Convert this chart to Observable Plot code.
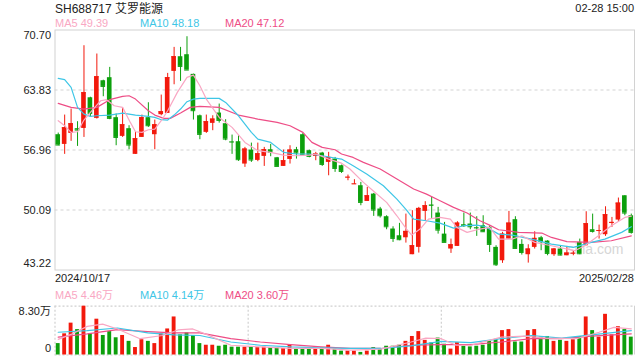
<!DOCTYPE html>
<html><head><meta charset="utf-8">
<script src="https://cdn.jsdelivr.net/npm/d3@7"></script>
<script src="https://cdn.jsdelivr.net/npm/@observablehq/plot@0.6"></script>
<style>
body{margin:0;background:#fff;width:640px;height:360px;overflow:hidden;position:relative;font-family:"Liberation Sans",Arial,"Noto Sans CJK SC",sans-serif;}
.t{position:absolute;white-space:nowrap;line-height:1;}
#main,#vol{position:absolute;left:0;}
#main{top:0}
#vol{top:300px}
</style></head><body>
<div id="main"></div>
<div id="vol"></div>
<script>
// ---- data ----
const title = "SH688717 艾罗能源";
const timeLabel = "02-28 15:00";
const startDate = "2024/10/17";
const endDate = "2025/02/28";
const priceTicks = [70.70, 63.83, 56.96, 50.09, 43.22];
const volMax = 8.30;
const maLabels = ["MA5 49.39", "MA10 48.18", "MA20 47.12"];
const volMaLabels = ["MA5 4.46万", "MA10 4.14万", "MA20 3.60万"];

const open  = [58.71,57.60,58.86,59.40,59.43,62.94,60.58,64.89,65.24,60.66,58.52,59.40,56.46,58.40,60.66,58.71,61.00,61.15,65.96,67.64,67.87,65.62,60.88,58.98,60.01,61.19,59.97,57.91,57.91,55.35,56.95,55.77,56.23,56.99,56.07,55.08,55.88,56.99,58.71,56.88,56.23,56.61,55.54,55.92,55.16,53.80,53.04,52.87,51.07,51.91,50.20,49.32,47.91,47.14,46.91,44.97,45.81,49.93,50.67,49.74,47.33,45.62,45.92,48.40,48.48,48.08,48.29,48.10,45.81,44.28,46.76,48.98,46.15,44.97,45.81,46.91,46.53,44.97,45.62,44.85,45.10,46.38,46.00,47.83,47.70,47.26,48.56,48.94,51.72,49.43];
const high  = [58.90,60.96,61.65,60.20,68.90,63.00,67.95,64.95,66.42,61.08,61.80,59.74,58.98,60.96,62.37,60.39,63.25,65.73,68.71,68.71,69.93,65.65,60.96,60.96,60.88,62.22,60.43,58.67,58.59,57.26,57.75,57.75,57.26,57.60,56.11,56.95,57.45,57.26,58.86,56.95,56.69,56.69,56.69,56.11,55.23,54.09,53.56,53.25,52.68,51.99,50.39,49.43,48.17,48.56,49.62,50.01,50.39,51.04,51.53,50.39,48.67,46.76,48.75,49.74,49.74,49.32,49.43,48.29,46.00,47.53,49.93,49.32,46.69,46.11,47.60,47.07,46.57,45.69,46.00,45.92,45.43,46.76,49.89,49.62,48.36,50.46,49.24,51.46,51.72,49.62];
const low   = [57.45,56.46,57.95,57.37,58.40,60.69,60.50,63.06,60.43,57.45,58.40,56.99,56.46,58.40,59.55,56.99,60.88,61.15,64.43,64.82,66.11,60.39,58.14,58.86,59.17,60.04,58.02,56.46,55.66,54.97,55.54,55.62,55.08,56.19,55.08,55.08,55.35,55.92,56.30,56.07,55.73,55.08,54.01,54.40,54.28,53.44,53.02,50.58,51.07,49.36,49.17,47.83,46.38,46.57,46.30,44.97,45.16,48.86,49.13,47.33,46.38,45.12,45.92,48.10,47.83,47.07,47.53,45.23,43.63,43.98,46.76,45.62,44.93,44.01,45.62,45.43,44.85,44.78,44.85,44.85,44.85,44.97,46.00,47.45,46.76,47.07,48.10,48.78,49.43,47.33];
const close = [57.53,59.51,59.97,59.24,63.52,61.15,65.35,64.24,60.58,58.40,59.85,57.53,58.25,60.66,59.74,59.85,61.34,65.24,67.64,66.53,66.11,61.46,58.75,60.20,60.50,60.35,58.21,57.87,55.85,57.07,55.81,56.53,56.99,56.69,55.08,55.73,56.95,56.61,56.46,56.23,56.50,55.31,56.11,54.85,54.51,53.84,53.08,50.96,51.72,50.08,49.43,48.17,46.84,46.69,47.64,46.00,50.27,50.58,50.63,47.79,46.38,46.11,48.59,48.29,48.17,48.04,47.60,46.15,43.82,47.33,48.59,45.69,45.23,45.62,46.84,46.46,45.12,45.62,44.93,45.16,45.14,45.08,48.52,47.64,47.74,49.55,48.67,50.88,49.74,47.53];
const volume = [1.94,3.60,5.42,4.32,8.30,3.60,6.09,3.32,3.98,2.93,3.32,2.32,1.27,2.60,2.32,1.94,3.60,4.43,6.47,3.43,3.76,3.32,1.94,1.66,1.66,1.49,1.66,1.33,1.33,1.33,1.33,1.27,1.33,1.27,1.22,1.11,1.66,1.11,1.11,1.11,1.11,1.22,1.66,1.00,0.66,0.66,0.66,0.44,0.66,1.27,1.11,1.49,1.49,1.66,2.32,3.15,3.98,2.49,2.05,2.88,1.83,1.00,2.10,1.49,1.38,1.49,1.66,2.32,2.66,4.15,4.32,2.21,2.21,4.15,4.32,3.04,3.15,2.32,2.49,2.32,2.60,3.15,6.47,4.15,3.04,6.92,3.43,4.81,4.32,3.04];

// moving-average curves: [candle index, value]
const ma5 = [[0,60.31],[1,59.74],[2,58.98],[3,59.05],[4,60.39],[5,61.27],[6.6,62.60],[7.5,62.72],[8.7,62.03],[10,61.84],[11.2,60.12],[12,59.05],[13,58.98],[14,59.28],[15,59.36],[16,60.31],[17,61.46],[18.5,63.56],[20,65.27],[21,65.54],[22,64.32],[23,62.79],[25,60.69],[27,59.55],[29,57.83],[31,56.88],[33,56.69],[35,56.38],[37,56.30],[39,56.38],[40,56.50],[41,56.23],[42,55.92],[44,55.45],[45.3,54.78],[47.4,53.25],[48.9,52.30],[51,50.96],[52.6,49.43],[54.1,47.91],[54.9,47.22],[56.2,47.91],[57.5,49.05],[59.3,49.24],[60.9,49.05],[61.9,48.10],[63.5,47.53],[65.5,47.91],[67,48.10],[68.4,46.76],[70.5,46.76],[72,47.14],[74,46.38],[76.6,46.00],[80.2,45.43],[81.8,46.00],[83.9,47.14],[85.9,48.29],[88,49.24],[89,49.39]];
const ma10 = [[0,65.16],[1,65.01],[2,64.13],[3,61.84],[4,61.07],[5,60.81],[6,60.88],[8,60.96],[10,61.19],[12,60.96],[14,60.81],[15,60.69],[16,60.43],[17,60.39],[18,60.96],[19,61.65],[20,62.49],[21,62.79],[22,62.87],[25,62.87],[26,62.41],[28,60.88],[30,58.98],[31,58.21],[33,57.83],[35,56.69],[37,56.50],[39,56.50],[41,56.30],[43,56.04],[44,55.92],[45.8,55.16],[47.9,54.20],[50.5,52.87],[52.6,51.34],[54.1,50.08],[55.2,49.05],[57.2,48.86],[59.3,48.59],[61.4,48.02],[63,48.29],[65,48.36],[66.3,48.20],[68.4,47.33],[70.5,47.22],[73.5,46.76],[76.6,46.19],[80,45.81],[82.8,46.38],[84.9,46.76],[87.5,47.53],[89,48.18]];
const ma20 = [[0,62.30],[2,61.84],[4,61.65],[6,61.84],[8,62.72],[10,63.10],[11,63.17],[12,62.79],[14,61.46],[15,60.96],[16.4,60.58],[17.4,60.58],[19,61.19],[20.5,61.84],[22,61.95],[25,61.84],[28,60.96],[31,60.50],[34,60.12],[36,59.74],[38,58.98],[39.4,57.83],[41,57.26],[43,56.99],[44,56.50],[45.8,56.11],[47.4,55.54],[50,54.78],[52.6,53.63],[55.2,52.49],[57.2,51.91],[59.3,51.15],[61.4,50.39],[63.5,49.74],[65.5,48.86],[67,48.36],[68.4,47.83],[71.5,47.53],[75.1,47.45],[76.6,46.95],[79,46.46],[82.8,46.38],[85.9,46.57],[89,47.12]];
const volMa5 = [[0,2.66],[2.2,3.60],[4.5,4.87],[6.9,5.26],[9.2,4.43],[12.7,2.77],[16.2,3.32],[18.6,4.26],[20.9,4.43],[23.2,3.43],[26.8,1.66],[31.4,1.38],[36.1,1.11],[40.8,1.11],[45.4,0.83],[50.1,1.00],[54.8,2.21],[57.1,2.88],[59.5,2.77],[61.8,1.66],[64.1,1.66],[68.8,3.04],[72.3,3.21],[75.8,2.88],[80.5,2.77],[84,3.87],[86.3,4.70],[89,4.46]];
const volMa10 = [[0,3.87],[4.5,4.15],[9.2,4.59],[13.9,3.76],[18,3.43],[22,3.32],[26.8,2.21],[31.4,1.66],[36.1,1.38],[40.8,1.22],[45.4,1.11],[50.1,1.11],[54.8,1.55],[59.5,2.32],[64.1,2.10],[68.8,2.77],[73.5,3.32],[78.2,2.88],[82.8,3.43],[89,4.14]];
const volMa20 = [[0,3.04],[4.5,3.60],[9.2,4.32],[13.9,3.98],[18,3.76],[22,3.76],[26.8,2.77],[31.4,2.21],[36.1,1.77],[40.8,1.38],[45.4,1.11],[50.1,1.11],[54.8,1.66],[59.5,1.77],[64.1,1.77],[68.8,2.21],[73.5,2.77],[78.2,2.77],[82.8,3.21],[89,3.60]];

// ---- styling ----
const RED = "#f2190c", GREEN = "#0c9f0c";
const C5 = "#f9a7c3", C10 = "#3ec6e6", C20 = "#ee4d86";
const FONT = '"Liberation Sans", Arial, "Noto Sans CJK SC", sans-serif';
const n = open.length;
const xDomain = [-0.5, n - 0.5];
const half = 0.36, vhalf = 0.3;
const candles = open.map((o, i) => ({i, o, h: high[i], l: low[i], c: close[i], v: volume[i], col: close[i] >= o ? RED : GREEN}));
const fmt = d3.format(".2f");

// ---- header texts ----
function addText(txt, css) {
  const d = document.createElement("div");
  d.className = "t"; d.textContent = txt; d.style.cssText += css;
  document.body.appendChild(d);
}
addText(title, "left:55px;top:2.5px;font-size:12px;color:#222;");
addText(timeLabel, "right:6px;top:2.5px;font-size:11px;color:#222;");
const legX = [55, 140, 225], legC = [C5, C10, C20];
maLabels.forEach((t, k) => addText(t, `left:${legX[k]}px;top:18px;font-size:11px;color:${legC[k]};`));
addText(startDate, "left:55px;top:272.5px;font-size:11px;color:#222;");
addText(endDate, "right:6px;top:272.5px;font-size:11px;color:#222;");
volMaLabels.forEach((t, k) => addText(t, `left:${legX[k]}px;top:289.5px;font-size:11px;color:${legC[k]};`));

const common = {
  width: 640, marginLeft: 54.5, marginRight: 6,
  x: {domain: xDomain, axis: null},
  color: {type: "identity"},
  style: {fontFamily: FONT, fontSize: "11px", color: "#222", background: "transparent", overflow: "visible"}
};

const mid = priceTicks.slice(1, -1);
const main = Plot.plot({
  ...common,
  height: 272, marginTop: 29.5, marginBottom: 2.5,
  y: {domain: [priceTicks[priceTicks.length - 1], priceTicks[0]], axis: null},
  marks: [
    Plot.ruleY(mid, {stroke: "#e2e2e2", strokeWidth: 1.5, strokeDasharray: "3,3"}),
    Plot.frame({stroke: "#d2d2d2"}),
    Plot.text(["sina.com"], {frameAnchor: "bottom-right", textAnchor: "end", lineAnchor: "middle", dx: -11, dy: -20.5, fill: "#d6d6d6", fontSize: 14}),
    Plot.text([priceTicks[0]], {y: d => d, text: fmt, frameAnchor: "left", textAnchor: "end", dx: -4, dy: 5.7, fill: "#222"}),
    Plot.text(mid, {y: d => d, text: fmt, frameAnchor: "left", textAnchor: "end", dx: -4, fill: "#222"}),
    Plot.text([priceTicks[priceTicks.length - 1]], {y: d => d, text: fmt, frameAnchor: "left", textAnchor: "end", dx: -4, dy: -6.3, fill: "#222"}),
    Plot.ruleX(candles, {x: "i", y1: "l", y2: "h", stroke: "col", strokeWidth: 1}),
    Plot.rect(candles, {x1: d => d.i - half, x2: d => d.i + half, y1: "o", y2: "c", fill: "col"}),
    Plot.ruleY(candles, {x1: d => d.i - half, x2: d => d.i + half, y: "c", stroke: "col"}),
    Plot.line(ma20, {x: d => d[0], y: d => d[1], stroke: C20, strokeWidth: 1.2}),
    Plot.line(ma10, {x: d => d[0], y: d => d[1], stroke: C10, strokeWidth: 1.2}),
    Plot.line(ma5, {x: d => d[0], y: d => d[1], stroke: C5, strokeWidth: 1.2})
  ]
});
document.getElementById("main").appendChild(main);

const volPlot = Plot.plot({
  ...common,
  height: 60, marginTop: 5.7, marginBottom: 5.5,
  y: {domain: [0, volMax], axis: null},
  marks: [
    Plot.ruleY([volMax, 0], {stroke: "#d0d0d0", strokeWidth: 1.2, strokeDasharray: "2,2"}),
    Plot.ruleX([xDomain[0], xDomain[0] + (n) / 3, xDomain[0] + 2 * n / 3], {stroke: "#d0d0d0", strokeWidth: 1.2, strokeDasharray: "2,2"}),
    Plot.ruleX([xDomain[1]], {stroke: "#d2d2d2"}),
    Plot.rect(candles, {x1: d => d.i - vhalf, x2: d => d.i + vhalf, y1: 0, y2: "v", fill: "col"}),
    Plot.line(volMa20, {x: d => d[0], y: d => d[1], stroke: C20, strokeWidth: 1.2}),
    Plot.line(volMa10, {x: d => d[0], y: d => d[1], stroke: C10, strokeWidth: 1.2}),
    Plot.line(volMa5, {x: d => d[0], y: d => d[1], stroke: C5, strokeWidth: 1.2}),
    Plot.text([volMax], {y: d => d, text: d => fmt(d) + "万", frameAnchor: "left", textAnchor: "end", dx: -4, dy: 5.5, fill: "#222"}),
    Plot.text([0], {y: d => d, text: d => String(d), frameAnchor: "left", textAnchor: "end", dx: -4, dy: -6.5, fill: "#222"})
  ]
});
document.getElementById("vol").appendChild(volPlot);
</script>
</body></html>
